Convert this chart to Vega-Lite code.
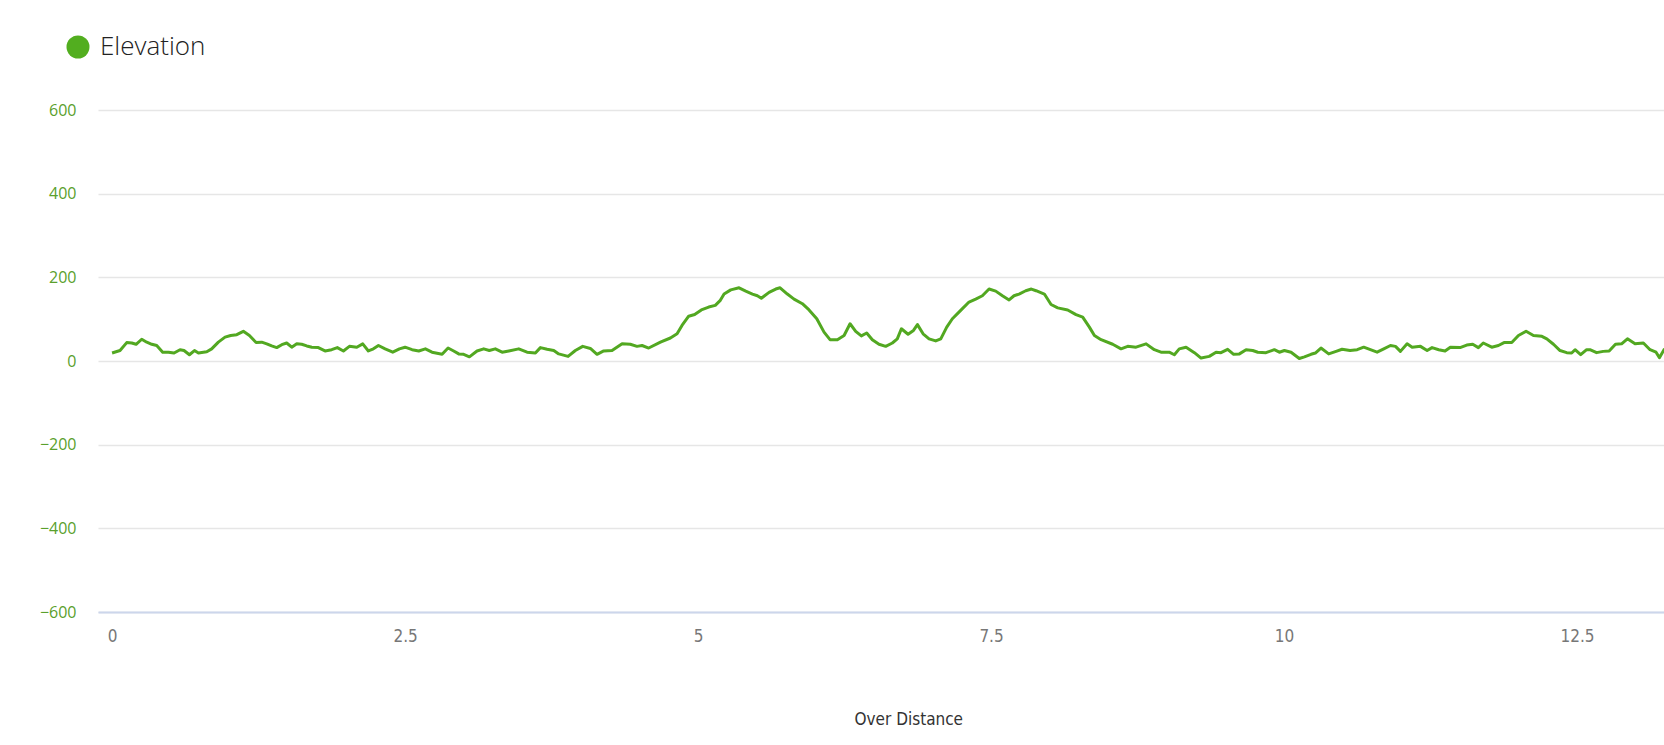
{
  "$schema": "https://vega.github.io/schema/vega-lite/v6.json",
  "width": 1566,
  "height": 502,
  "autosize": "none",
  "padding": {"left": 98, "top": 110, "right": 0, "bottom": 133},
  "background": "#ffffff",
  "config": {"view": {"stroke": null}},
  "data": {
    "values": [
      {"d": 0.0, "e": 19, "s": "Elevation"},
      {"d": 0.068, "e": 25, "s": "Elevation"},
      {"d": 0.125, "e": 44, "s": "Elevation"},
      {"d": 0.168, "e": 43, "s": "Elevation"},
      {"d": 0.205, "e": 40, "s": "Elevation"},
      {"d": 0.253, "e": 52, "s": "Elevation"},
      {"d": 0.296, "e": 45, "s": "Elevation"},
      {"d": 0.339, "e": 40, "s": "Elevation"},
      {"d": 0.381, "e": 37, "s": "Elevation"},
      {"d": 0.432, "e": 21, "s": "Elevation"},
      {"d": 0.481, "e": 21, "s": "Elevation"},
      {"d": 0.529, "e": 19, "s": "Elevation"},
      {"d": 0.58, "e": 27, "s": "Elevation"},
      {"d": 0.614, "e": 25, "s": "Elevation"},
      {"d": 0.66, "e": 15, "s": "Elevation"},
      {"d": 0.703, "e": 25, "s": "Elevation"},
      {"d": 0.737, "e": 19, "s": "Elevation"},
      {"d": 0.808, "e": 22, "s": "Elevation"},
      {"d": 0.85, "e": 29, "s": "Elevation"},
      {"d": 0.907, "e": 45, "s": "Elevation"},
      {"d": 0.964, "e": 57, "s": "Elevation"},
      {"d": 1.012, "e": 61, "s": "Elevation"},
      {"d": 1.064, "e": 63, "s": "Elevation"},
      {"d": 1.12, "e": 71, "s": "Elevation"},
      {"d": 1.172, "e": 61, "s": "Elevation"},
      {"d": 1.229, "e": 44, "s": "Elevation"},
      {"d": 1.277, "e": 45, "s": "Elevation"},
      {"d": 1.32, "e": 41, "s": "Elevation"},
      {"d": 1.362, "e": 36, "s": "Elevation"},
      {"d": 1.405, "e": 32, "s": "Elevation"},
      {"d": 1.448, "e": 39, "s": "Elevation"},
      {"d": 1.49, "e": 43, "s": "Elevation"},
      {"d": 1.533, "e": 33, "s": "Elevation"},
      {"d": 1.576, "e": 41, "s": "Elevation"},
      {"d": 1.618, "e": 40, "s": "Elevation"},
      {"d": 1.661, "e": 36, "s": "Elevation"},
      {"d": 1.704, "e": 33, "s": "Elevation"},
      {"d": 1.76, "e": 32, "s": "Elevation"},
      {"d": 1.817, "e": 24, "s": "Elevation"},
      {"d": 1.874, "e": 27, "s": "Elevation"},
      {"d": 1.922, "e": 32, "s": "Elevation"},
      {"d": 1.974, "e": 24, "s": "Elevation"},
      {"d": 2.025, "e": 35, "s": "Elevation"},
      {"d": 2.088, "e": 33, "s": "Elevation"},
      {"d": 2.139, "e": 41, "s": "Elevation"},
      {"d": 2.187, "e": 24, "s": "Elevation"},
      {"d": 2.23, "e": 29, "s": "Elevation"},
      {"d": 2.273, "e": 37, "s": "Elevation"},
      {"d": 2.33, "e": 29, "s": "Elevation"},
      {"d": 2.395, "e": 21, "s": "Elevation"},
      {"d": 2.452, "e": 29, "s": "Elevation"},
      {"d": 2.5, "e": 33, "s": "Elevation"},
      {"d": 2.56, "e": 27, "s": "Elevation"},
      {"d": 2.617, "e": 24, "s": "Elevation"},
      {"d": 2.673, "e": 29, "s": "Elevation"},
      {"d": 2.73, "e": 21, "s": "Elevation"},
      {"d": 2.816, "e": 16, "s": "Elevation"},
      {"d": 2.867, "e": 31, "s": "Elevation"},
      {"d": 2.915, "e": 24, "s": "Elevation"},
      {"d": 2.958, "e": 17, "s": "Elevation"},
      {"d": 3.0, "e": 16, "s": "Elevation"},
      {"d": 3.049, "e": 10, "s": "Elevation"},
      {"d": 3.114, "e": 24, "s": "Elevation"},
      {"d": 3.171, "e": 29, "s": "Elevation"},
      {"d": 3.219, "e": 25, "s": "Elevation"},
      {"d": 3.27, "e": 29, "s": "Elevation"},
      {"d": 3.328, "e": 21, "s": "Elevation"},
      {"d": 3.385, "e": 24, "s": "Elevation"},
      {"d": 3.47, "e": 29, "s": "Elevation"},
      {"d": 3.541, "e": 21, "s": "Elevation"},
      {"d": 3.612, "e": 19, "s": "Elevation"},
      {"d": 3.655, "e": 32, "s": "Elevation"},
      {"d": 3.712, "e": 28, "s": "Elevation"},
      {"d": 3.769, "e": 25, "s": "Elevation"},
      {"d": 3.811, "e": 17, "s": "Elevation"},
      {"d": 3.891, "e": 11, "s": "Elevation"},
      {"d": 3.953, "e": 25, "s": "Elevation"},
      {"d": 4.016, "e": 35, "s": "Elevation"},
      {"d": 4.081, "e": 30, "s": "Elevation"},
      {"d": 4.138, "e": 16, "s": "Elevation"},
      {"d": 4.195, "e": 24, "s": "Elevation"},
      {"d": 4.266, "e": 25, "s": "Elevation"},
      {"d": 4.352, "e": 41, "s": "Elevation"},
      {"d": 4.422, "e": 40, "s": "Elevation"},
      {"d": 4.479, "e": 35, "s": "Elevation"},
      {"d": 4.522, "e": 37, "s": "Elevation"},
      {"d": 4.579, "e": 31, "s": "Elevation"},
      {"d": 4.679, "e": 45, "s": "Elevation"},
      {"d": 4.764, "e": 55, "s": "Elevation"},
      {"d": 4.821, "e": 65, "s": "Elevation"},
      {"d": 4.863, "e": 85, "s": "Elevation"},
      {"d": 4.92, "e": 107, "s": "Elevation"},
      {"d": 4.971, "e": 111, "s": "Elevation"},
      {"d": 5.028, "e": 122, "s": "Elevation"},
      {"d": 5.091, "e": 129, "s": "Elevation"},
      {"d": 5.147, "e": 133, "s": "Elevation"},
      {"d": 5.19, "e": 145, "s": "Elevation"},
      {"d": 5.222, "e": 160, "s": "Elevation"},
      {"d": 5.279, "e": 170, "s": "Elevation"},
      {"d": 5.35, "e": 175, "s": "Elevation"},
      {"d": 5.407, "e": 167, "s": "Elevation"},
      {"d": 5.464, "e": 160, "s": "Elevation"},
      {"d": 5.506, "e": 156, "s": "Elevation"},
      {"d": 5.54, "e": 150, "s": "Elevation"},
      {"d": 5.606, "e": 164, "s": "Elevation"},
      {"d": 5.663, "e": 172, "s": "Elevation"},
      {"d": 5.7, "e": 175, "s": "Elevation"},
      {"d": 5.762, "e": 160, "s": "Elevation"},
      {"d": 5.819, "e": 148, "s": "Elevation"},
      {"d": 5.89, "e": 137, "s": "Elevation"},
      {"d": 5.947, "e": 122, "s": "Elevation"},
      {"d": 6.013, "e": 101, "s": "Elevation"},
      {"d": 6.075, "e": 69, "s": "Elevation"},
      {"d": 6.126, "e": 51, "s": "Elevation"},
      {"d": 6.189, "e": 51, "s": "Elevation"},
      {"d": 6.246, "e": 61, "s": "Elevation"},
      {"d": 6.297, "e": 89, "s": "Elevation"},
      {"d": 6.345, "e": 71, "s": "Elevation"},
      {"d": 6.393, "e": 60, "s": "Elevation"},
      {"d": 6.439, "e": 67, "s": "Elevation"},
      {"d": 6.487, "e": 51, "s": "Elevation"},
      {"d": 6.544, "e": 40, "s": "Elevation"},
      {"d": 6.601, "e": 35, "s": "Elevation"},
      {"d": 6.658, "e": 43, "s": "Elevation"},
      {"d": 6.7, "e": 53, "s": "Elevation"},
      {"d": 6.735, "e": 77, "s": "Elevation"},
      {"d": 6.792, "e": 64, "s": "Elevation"},
      {"d": 6.838, "e": 73, "s": "Elevation"},
      {"d": 6.872, "e": 87, "s": "Elevation"},
      {"d": 6.92, "e": 65, "s": "Elevation"},
      {"d": 6.971, "e": 53, "s": "Elevation"},
      {"d": 7.028, "e": 48, "s": "Elevation"},
      {"d": 7.071, "e": 53, "s": "Elevation"},
      {"d": 7.122, "e": 81, "s": "Elevation"},
      {"d": 7.17, "e": 101, "s": "Elevation"},
      {"d": 7.241, "e": 121, "s": "Elevation"},
      {"d": 7.312, "e": 141, "s": "Elevation"},
      {"d": 7.369, "e": 148, "s": "Elevation"},
      {"d": 7.426, "e": 156, "s": "Elevation"},
      {"d": 7.483, "e": 172, "s": "Elevation"},
      {"d": 7.54, "e": 167, "s": "Elevation"},
      {"d": 7.597, "e": 156, "s": "Elevation"},
      {"d": 7.654, "e": 146, "s": "Elevation"},
      {"d": 7.696, "e": 156, "s": "Elevation"},
      {"d": 7.739, "e": 160, "s": "Elevation"},
      {"d": 7.796, "e": 168, "s": "Elevation"},
      {"d": 7.844, "e": 172, "s": "Elevation"},
      {"d": 7.884, "e": 168, "s": "Elevation"},
      {"d": 7.955, "e": 160, "s": "Elevation"},
      {"d": 8.012, "e": 135, "s": "Elevation"},
      {"d": 8.069, "e": 127, "s": "Elevation"},
      {"d": 8.154, "e": 122, "s": "Elevation"},
      {"d": 8.225, "e": 111, "s": "Elevation"},
      {"d": 8.282, "e": 105, "s": "Elevation"},
      {"d": 8.339, "e": 81, "s": "Elevation"},
      {"d": 8.382, "e": 61, "s": "Elevation"},
      {"d": 8.439, "e": 51, "s": "Elevation"},
      {"d": 8.538, "e": 40, "s": "Elevation"},
      {"d": 8.609, "e": 29, "s": "Elevation"},
      {"d": 8.666, "e": 35, "s": "Elevation"},
      {"d": 8.737, "e": 33, "s": "Elevation"},
      {"d": 8.823, "e": 41, "s": "Elevation"},
      {"d": 8.893, "e": 27, "s": "Elevation"},
      {"d": 8.95, "e": 21, "s": "Elevation"},
      {"d": 9.02, "e": 21, "s": "Elevation"},
      {"d": 9.064, "e": 15, "s": "Elevation"},
      {"d": 9.106, "e": 29, "s": "Elevation"},
      {"d": 9.164, "e": 33, "s": "Elevation"},
      {"d": 9.235, "e": 20, "s": "Elevation"},
      {"d": 9.292, "e": 7, "s": "Elevation"},
      {"d": 9.362, "e": 11, "s": "Elevation"},
      {"d": 9.42, "e": 21, "s": "Elevation"},
      {"d": 9.462, "e": 20, "s": "Elevation"},
      {"d": 9.519, "e": 28, "s": "Elevation"},
      {"d": 9.57, "e": 16, "s": "Elevation"},
      {"d": 9.619, "e": 17, "s": "Elevation"},
      {"d": 9.676, "e": 27, "s": "Elevation"},
      {"d": 9.733, "e": 25, "s": "Elevation"},
      {"d": 9.776, "e": 21, "s": "Elevation"},
      {"d": 9.846, "e": 20, "s": "Elevation"},
      {"d": 9.917, "e": 27, "s": "Elevation"},
      {"d": 9.96, "e": 21, "s": "Elevation"},
      {"d": 10.003, "e": 25, "s": "Elevation"},
      {"d": 10.06, "e": 21, "s": "Elevation"},
      {"d": 10.13, "e": 6, "s": "Elevation"},
      {"d": 10.174, "e": 10, "s": "Elevation"},
      {"d": 10.23, "e": 16, "s": "Elevation"},
      {"d": 10.267, "e": 19, "s": "Elevation"},
      {"d": 10.315, "e": 31, "s": "Elevation"},
      {"d": 10.381, "e": 17, "s": "Elevation"},
      {"d": 10.444, "e": 23, "s": "Elevation"},
      {"d": 10.495, "e": 28, "s": "Elevation"},
      {"d": 10.563, "e": 25, "s": "Elevation"},
      {"d": 10.624, "e": 27, "s": "Elevation"},
      {"d": 10.68, "e": 33, "s": "Elevation"},
      {"d": 10.737, "e": 27, "s": "Elevation"},
      {"d": 10.794, "e": 21, "s": "Elevation"},
      {"d": 10.851, "e": 29, "s": "Elevation"},
      {"d": 10.908, "e": 37, "s": "Elevation"},
      {"d": 10.951, "e": 35, "s": "Elevation"},
      {"d": 10.993, "e": 23, "s": "Elevation"},
      {"d": 11.05, "e": 41, "s": "Elevation"},
      {"d": 11.093, "e": 33, "s": "Elevation"},
      {"d": 11.164, "e": 35, "s": "Elevation"},
      {"d": 11.221, "e": 25, "s": "Elevation"},
      {"d": 11.263, "e": 32, "s": "Elevation"},
      {"d": 11.32, "e": 27, "s": "Elevation"},
      {"d": 11.374, "e": 24, "s": "Elevation"},
      {"d": 11.419, "e": 33, "s": "Elevation"},
      {"d": 11.502, "e": 32, "s": "Elevation"},
      {"d": 11.559, "e": 38, "s": "Elevation"},
      {"d": 11.61, "e": 40, "s": "Elevation"},
      {"d": 11.658, "e": 32, "s": "Elevation"},
      {"d": 11.7, "e": 43, "s": "Elevation"},
      {"d": 11.772, "e": 33, "s": "Elevation"},
      {"d": 11.829, "e": 37, "s": "Elevation"},
      {"d": 11.877, "e": 44, "s": "Elevation"},
      {"d": 11.943, "e": 44, "s": "Elevation"},
      {"d": 12.0, "e": 61, "s": "Elevation"},
      {"d": 12.065, "e": 71, "s": "Elevation"},
      {"d": 12.128, "e": 61, "s": "Elevation"},
      {"d": 12.2, "e": 59, "s": "Elevation"},
      {"d": 12.242, "e": 53, "s": "Elevation"},
      {"d": 12.299, "e": 40, "s": "Elevation"},
      {"d": 12.355, "e": 25, "s": "Elevation"},
      {"d": 12.412, "e": 20, "s": "Elevation"},
      {"d": 12.454, "e": 19, "s": "Elevation"},
      {"d": 12.483, "e": 27, "s": "Elevation"},
      {"d": 12.531, "e": 15, "s": "Elevation"},
      {"d": 12.582, "e": 27, "s": "Elevation"},
      {"d": 12.61, "e": 27, "s": "Elevation"},
      {"d": 12.667, "e": 20, "s": "Elevation"},
      {"d": 12.723, "e": 23, "s": "Elevation"},
      {"d": 12.774, "e": 24, "s": "Elevation"},
      {"d": 12.828, "e": 40, "s": "Elevation"},
      {"d": 12.88, "e": 41, "s": "Elevation"},
      {"d": 12.93, "e": 53, "s": "Elevation"},
      {"d": 12.995, "e": 41, "s": "Elevation"},
      {"d": 13.066, "e": 43, "s": "Elevation"},
      {"d": 13.123, "e": 27, "s": "Elevation"},
      {"d": 13.174, "e": 21, "s": "Elevation"},
      {"d": 13.203, "e": 8, "s": "Elevation"},
      {"d": 13.242, "e": 27, "s": "Elevation"},
      {"d": 13.3, "e": 35, "s": "Elevation"}
    ]
  },
  "mark": {"type": "line", "strokeWidth": 3, "clip": true, "interpolate": "linear", "strokeJoin": "round"},
  "encoding": {
    "x": {
      "field": "d",
      "type": "quantitative",
      "scale": {"domain": [-0.12, 13.242], "nice": false, "zero": false},
      "axis": {
        "values": [0, 2.5, 5, 7.5, 10, 12.5],
        "format": ".1~f",
        "grid": false,
        "ticks": false,
        "domainColor": "#ccd6eb",
        "domainWidth": 2,
        "labelColor": "#777777",
        "labelFont": "DejaVu Sans Condensed, Open Sans",
        "labelFontWeight": 300,
        "labelFontSize": 17,
        "labelPadding": 16,
        "labelFlush": false,
        "title": "Over Distance",
        "titleFont": "DejaVu Sans Condensed, Open Sans",
        "titleFontSize": 17,
        "titleFontWeight": 300,
        "titleColor": "#333333",
        "titleAlign": "left",
        "titleBaseline": "middle",
        "titleAnchor": "start",
        "titleX": 756,
        "titleY": 107
      }
    },
    "y": {
      "field": "e",
      "type": "quantitative",
      "scale": {"domain": [-600, 600], "nice": false},
      "axis": {
        "values": [-600, -400, -200, 0, 200, 400, 600],
        "grid": true,
        "gridColor": "#e6e6e6",
        "gridWidth": 1.5,
        "domain": false,
        "ticks": false,
        "labelColor": "#5aa02c",
        "labelFont": "Open Sans",
        "labelFontSize": 16,
        "labelPadding": 22,
        "title": null
      }
    },
    "color": {
      "field": "s",
      "type": "nominal",
      "scale": {"range": ["#52a821"]},
      "legend": {
        "title": null,
        "orient": "none",
        "legendX": -33,
        "legendY": -76,
        "symbolType": "circle",
        "symbolSize": 529,
        "symbolFillColor": "#52ae1f",
        "symbolStrokeWidth": 0,
        "symbolOpacity": 1,
        "labelFont": "Open Sans",
        "labelFontWeight": 300,
        "labelFontSize": 26,
        "labelColor": "#222222",
        "labelOffset": 9
      }
    }
  }
}
